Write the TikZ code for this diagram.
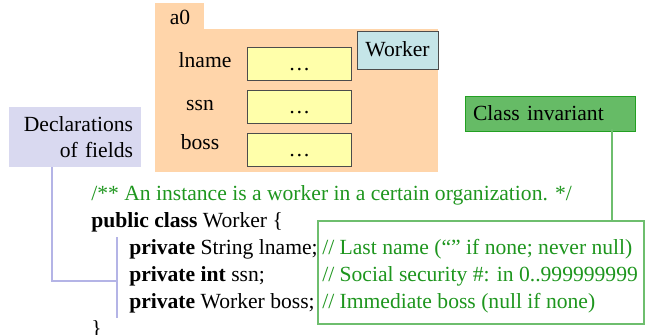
\documentclass[tikz,border=0pt]{standalone}
\usepackage{fontspec}
\setmainfont{Liberation Serif}
\usetikzlibrary{calc}

\definecolor{objpeach}{RGB}{255,213,170}
\definecolor{fldyellow}{RGB}{255,255,170}
\definecolor{clsblue}{RGB}{197,229,232}
\definecolor{decllav}{RGB}{217,217,240}
\definecolor{decline}{RGB}{180,180,230}
\definecolor{invgreen}{RGB}{102,187,102}
\definecolor{invborder}{RGB}{34,160,34}
\definecolor{codegreen}{RGB}{30,150,30}
\definecolor{invline}{RGB}{110,190,110}

\begin{document}
\begin{tikzpicture}[x=0.75pt,y=-0.75pt]
	\tikzset{
	every node/.style={font=\fontsize{16.2}{20}\selectfont, inner sep=0pt},
	field/.style={draw=black!70, fill=fldyellow, minimum width=104*0.75pt, minimum height=33*0.75pt, text height=13pt, text depth=3.2pt},
	code/.style={anchor=base west},
	note/.style={anchor=base west, text=codegreen}}

	\def\px{0.75pt}

	\useasboundingbox (0,0) rectangle (650,335);

	%object a0
	\fill[objpeach] (155,3) rectangle (204,30);
	\fill[objpeach] (155,29) rectangle (438,172);
	\node[anchor=base] (aname) at (180,25) {a0};

	\node[draw=black!70, fill=clsblue, minimum width=81*\px, minimum height=38*\px, text height=13pt, text depth=3pt] (cls) at (397.5,50) {Worker};

	\node[field] (f1) at (299.5,63.5) {\dots};
	\node[field] (f2) at (299.5,106.5) {\dots};
	\node[field] (f3) at (299.5,150) {\dots};

	\node[anchor=base] (n1) at (205,68) {lname};
	\node[anchor=base] (n2) at (200,111) {ssn};
	\node[anchor=base] (n3) at (200,149) {boss};

	%labels
	\node[fill=decllav, minimum width=132*\px, minimum height=60*\px, align=right, text width=116*\px] (decl) at (75,137) {Declarations\\[-1pt] of fields};

	\node[fill=invgreen, draw=invborder, minimum height=35*\px, text width=154*\px, inner xsep=8*\px, align=left, text height=13pt, text depth=3pt] (inv) at (550,114) {Class invariant};

	%code
	\node[code, text=codegreen] (c0) at (91,200) {/** An instance is a worker in a certain organization. */};
	\node[code] (c1) at (91,227) {\textbf{public class} Worker \{};
	\node[code] (c2) at (129,254) {\textbf{private} String lname;};
	\node[code] (c3) at (129,281) {\textbf{private int} ssn;};
	\node[code] (c4) at (129,308) {\textbf{private} Worker boss;};
	\node[code] (c5) at (91,335) {\}};

	\node[draw=invline, line width=0.9pt, fill=white, minimum width=326*\px, minimum height=103*\px] (cmt) at (481,272.5) {};
	\node[note] (m1) at (322,254) {// Last name (“” if none; never null)};
	\node[note] (m2) at (322,281) {// Social security \#: in 0..999999999};
	\node[note] (m3) at (322,308) {// Immediate boss (null if none)};

	%connectors
	\coordinate (brktop) at (117,237);
	\coordinate (brkmid) at (117,281);
	\coordinate (brkbot) at (117,318);
	\draw[decline, line width=1.5pt] ($(decl.south west)+(43,0)$) |- (brkmid);
	\draw[decline, line width=1.5pt] (brktop) -- (brkbot);

	\draw[invline, line width=1.2pt] ($(inv.south east)+(-23,-3)$) coordinate (invfoot) -- (invfoot |- cmt.north);
\end{tikzpicture}
\end{document}
